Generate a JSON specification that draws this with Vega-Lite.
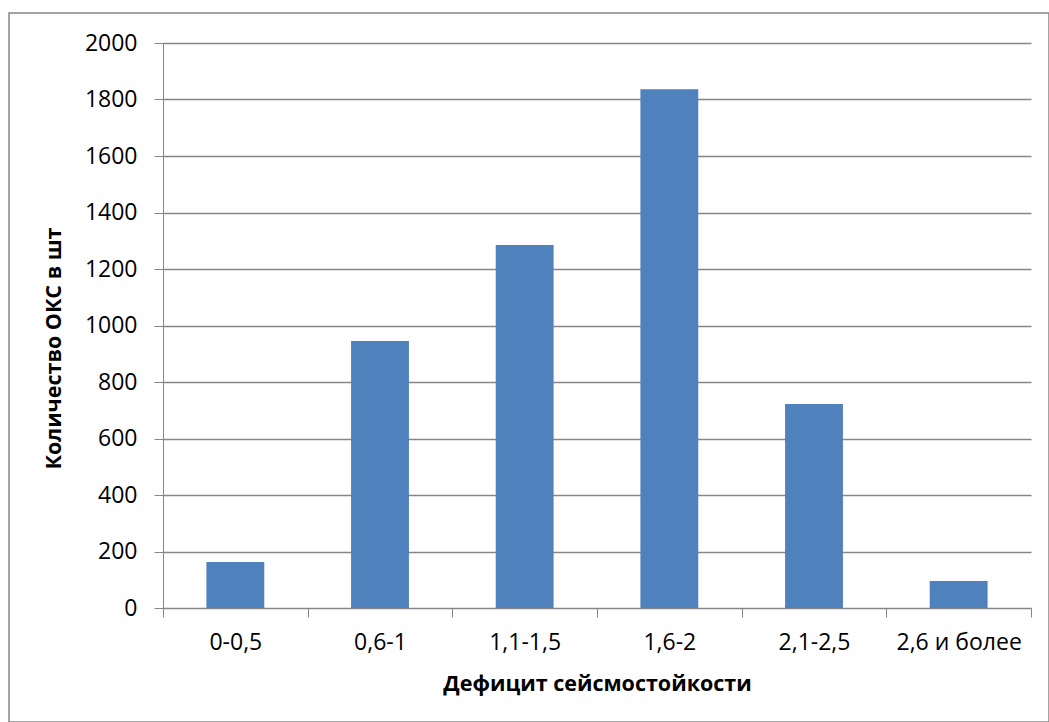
{
  "$schema": "https://vega.github.io/schema/vega-lite/v6.json",
  "autosize": {"type": "none"},
  "padding": {"left": 9, "top": 13, "right": 0, "bottom": 0},
  "width": 1040,
  "height": 709,
  "background": "white",
  "config": {
    "view": {"stroke": "#868686", "strokeWidth": 1.5},
    "font": "Open Sans"
  },
  "data": {
    "values": [
      {"category": "0-0,5", "count": 163},
      {"category": "0,6-1", "count": 945},
      {"category": "1,1-1,5", "count": 1285},
      {"category": "1,6-2", "count": 1836},
      {"category": "2,1-2,5", "count": 722},
      {"category": "2,6 и более", "count": 96}
    ]
  },
  "mark": {"type": "bar", "color": "#4F81BD", "width": {"band": 0.4}},
  "encoding": {
    "x": {
      "field": "category",
      "type": "nominal",
      "sort": null,
      "scale": {"range": [154, 1022], "paddingInner": 0, "paddingOuter": 0},
      "axis": {
        "title": "Дефицит сейсмостойкости",
        "offset": -114,
        "labelAngle": 0,
        "tickBand": "extent",
        "tickSize": 9,
        "tickColor": "#868686",
        "domainColor": "#868686",
        "labelFont": "Open Sans",
        "labelFontSize": 23,
        "labelColor": "#000000",
        "labelBaseline": "middle",
        "labelPadding": 25,
        "titleFont": "Open Sans",
        "titleFontSize": 21.5,
        "titleFontWeight": "bold",
        "titleColor": "#000000",
        "titleBaseline": "middle",
        "titleY": 76
      }
    },
    "y": {
      "field": "count",
      "type": "quantitative",
      "scale": {"domain": [0, 2000], "range": [595, 30], "nice": false},
      "axis": {
        "title": "Количество ОКС в шт",
        "offset": -154,
        "values": [0, 200, 400, 600, 800, 1000, 1200, 1400, 1600, 1800, 2000],
        "format": "d",
        "grid": true,
        "gridColor": "#868686",
        "gridWidth": 1.3,
        "tickSize": 9,
        "tickColor": "#868686",
        "domainColor": "#868686",
        "labelFont": "Open Sans",
        "labelFontSize": 23,
        "labelColor": "#000000",
        "labelPadding": 17,
        "titleFont": "Open Sans",
        "titleFontSize": 21.5,
        "titleFontWeight": "bold",
        "titleColor": "#000000",
        "titleAngle": -90,
        "titleAlign": "center",
        "titleBaseline": "middle",
        "titleX": -109,
        "titleY": 335
      }
    }
  }
}
